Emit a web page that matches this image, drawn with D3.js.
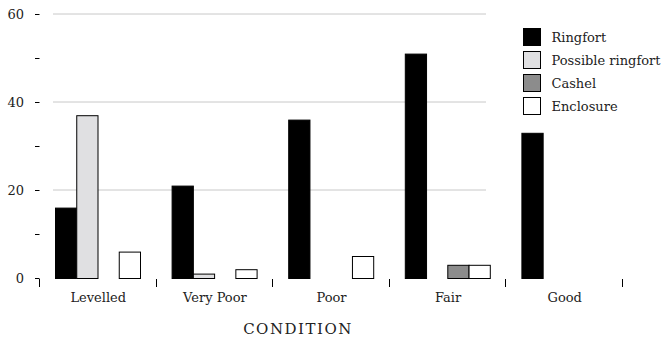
<!DOCTYPE html>
<html>
<head>
<meta charset="utf-8">
<script src="https://cdn.jsdelivr.net/npm/d3@7"></script>
<style>
  body { margin: 0; background: #fff; }
  text { font-family: "DejaVu Serif", serif; }
</style>
</head>
<body>
<div id="chart"></div>
<script>
var categories = ["Levelled", "Very Poor", "Poor", "Fair", "Good"];
var series = ["Ringfort", "Possible ringfort", "Cashel", "Enclosure"];
var ringfort = [16, 21, 36, 51, 33];
var possibleRingfort = [37, 1, 0, 0, 0];
var cashel = [0, 0, 0, 3, 0];
var enclosure = [6, 2, 5, 3, 0];
var yTicks = [0, 20, 40, 60];
var colors = ["#000000", "#e0e0e2", "#8c8c8c", "#ffffff"];

var values = [ringfort, possibleRingfort, cashel, enclosure];
var data = categories.map((c, i) => ({
  cat: c,
  vals: series.map((s, j) => ({ key: s, value: values[j][i], color: colors[j] }))
}));

var width = 663, height = 344;
var svg = d3.select("#chart").append("svg")
  .attr("width", width)
  .attr("height", height);

var x = d3.scaleBand().domain(categories).range([40, 623]);
var x1 = d3.scaleBand().domain(series).range([15.5, 100.5]);
var y = d3.scaleLinear().domain([0, 60]).range([278, 14]);

// gridlines
svg.append("g")
  .selectAll("line")
  .data(yTicks.filter(d => d > 0))
  .join("line")
    .attr("x1", 53).attr("x2", 486)
    .attr("y1", d => y(d)).attr("y2", d => y(d))
    .attr("stroke", "#c8c8c8")
    .attr("stroke-width", 1);

// y axis: dashes every 10, labels every 20
var yAxis = svg.append("g");
yAxis.selectAll("line")
  .data(d3.range(0, 61, 10))
  .join("line")
    .attr("x1", 35).attr("x2", 39.5)
    .attr("y1", d => Math.round(y(d)) + 0.5).attr("y2", d => Math.round(y(d)) + 0.5)
    .attr("stroke", "#000");
yAxis.selectAll("text")
  .data(yTicks)
  .join("text")
    .attr("x", 24)
    .attr("y", d => y(d) + 5)
    .attr("text-anchor", "end")
    .style("font-size", "13px")
    .attr("fill", "#222")
    .text(d => d);

// x axis ticks at band edges
var edges = categories.map(c => x(c)).concat([623]);
svg.append("g")
  .selectAll("line")
  .data(edges)
  .join("line")
    .attr("x1", d => Math.round(d) - 0.5).attr("x2", d => Math.round(d) - 0.5)
    .attr("y1", 279).attr("y2", 287)
    .attr("stroke", "#000");

svg.append("g")
  .selectAll("text")
  .data(categories)
  .join("text")
    .attr("x", d => x(d) + x.bandwidth() / 2)
    .attr("y", 302)
    .attr("text-anchor", "middle")
    .style("font-size", "13px")
    .attr("fill", "#222")
    .text(d => d);

// bars
svg.append("g")
  .selectAll("g")
  .data(data)
  .join("g")
    .attr("transform", d => `translate(${x(d.cat)},0)`)
  .selectAll("rect")
  .data(d => d.vals.filter(v => v.value > 0))
  .join("rect")
    .attr("x", d => x1(d.key))
    .attr("y", d => y(d.value) + 0.5)
    .attr("width", x1.bandwidth())
    .attr("height", d => y(0) - y(d.value))
    .attr("fill", d => d.color)
    .attr("stroke", "#000")
    .attr("stroke-width", 1);

// axis title
svg.append("text")
  .attr("x", 298)
  .attr("y", 334)
  .attr("text-anchor", "middle")
  .style("font-size", "15px")
  .style("letter-spacing", "1.5px")
  .attr("fill", "#222")
  .text("CONDITION");

// legend
var legend = svg.append("g")
  .selectAll("g")
  .data(series)
  .join("g")
    .attr("transform", (d, i) => `translate(523.5,${28.5 + i * 23})`);
legend.append("rect")
  .attr("width", 17).attr("height", 17)
  .attr("fill", (d, i) => colors[i])
  .attr("stroke", "#000");
legend.append("text")
  .attr("x", 28)
  .attr("y", 13)
  .style("font-size", "13px")
  .attr("fill", "#222")
  .text(d => d);
</script>
</body>
</html>
